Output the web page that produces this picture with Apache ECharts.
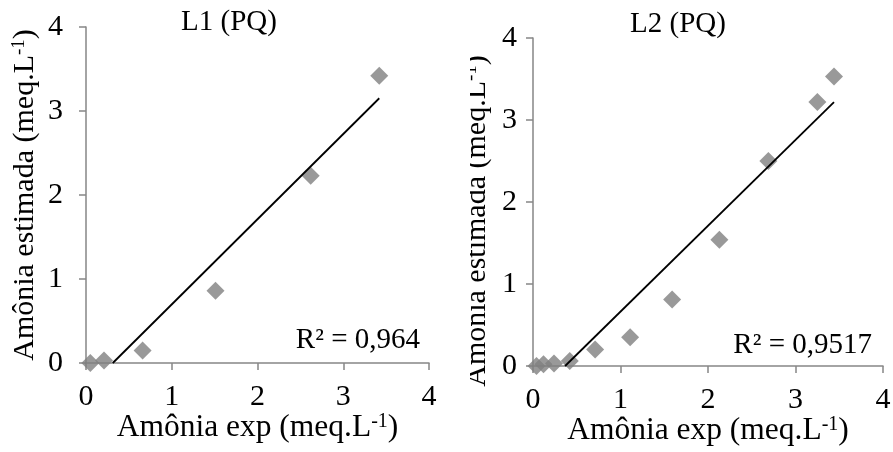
<!DOCTYPE html>
<html><head><meta charset="utf-8">
<script src="https://cdn.jsdelivr.net/npm/echarts@6/dist/echarts.min.js"></script>
<style>html,body{margin:0;padding:0;background:#fff}#c{width:893px;height:452px}</style>
</head><body><div id="c"></div>
<script>
// ---- data ----
const titles = ['L1 (PQ)', 'L2 (PQ)'];
const r2Labels = ['R\u00b2 = 0,964', 'R\u00b2 = 0,9517'];
const axisMin = 0, axisMax = 4, axisStep = 1;
const l1X = [0.05, 0.21, 0.66, 1.51, 2.62, 3.42];
const l1Y = [0.00, 0.03, 0.15, 0.86, 2.23, 3.42];
const l2X = [0.04, 0.12, 0.24, 0.42, 0.71, 1.11, 1.59, 2.13, 2.69, 3.25, 3.44];
const l2Y = [0.00, 0.02, 0.03, 0.06, 0.20, 0.35, 0.81, 1.54, 2.50, 3.22, 3.53];
const xNameText = 'Amônia exp (meq.L';
const yNameText = 'Amônia estimada (meq.L';
const supText = '-1';

// ---- helpers ----
const FONT = "'Liberation Serif','Times New Roman',serif";
const AX = '#868686';
function linReg(xs, ys) {
  const n = xs.length;
  const mx = xs.reduce((a, b) => a + b, 0) / n;
  const my = ys.reduce((a, b) => a + b, 0) / n;
  let sxy = 0, sxx = 0;
  for (let i = 0; i < n; i++) { sxy += (xs[i] - mx) * (ys[i] - my); sxx += (xs[i] - mx) ** 2; }
  const a = sxy / sxx, b = my - a * mx;
  return { a, b };
}
function trend(xs, ys) {
  const { a, b } = linReg(xs, ys);
  const xmin = Math.min(...xs), xmax = Math.max(...xs);
  const x0 = Math.max(xmin, -b / a);
  return [[x0, a * x0 + b], [xmax, a * xmax + b]];
}
function makeRich(size, supSize) {
  return {
    a: { fontFamily: FONT, fontSize: size, color: '#000' },
    s: { fontFamily: FONT, fontSize: supSize, color: '#000', verticalAlign: 'top' }
  };
}
function nameOf(t) { return '{a|' + t + '}{s|' + supText + '}{a|)}'; }

const grids = [
  { left: 86, top: 27, width: 343, height: 336 },
  { left: 533, top: 38, width: 350, height: 328 }
];
const yLabelMargin = [23, 16];
const yNamePad = [[0, 0, 0, 0], [0, 38, 0, 0]];
const yNameGap = [46, 41];

function xAxis(i) {
  return {
    gridIndex: i, type: 'value', min: axisMin, max: axisMax, interval: axisStep,
    axisLine: { show: true, onZero: false, lineStyle: { color: AX, width: 1.5 } },
    axisTick: { show: true, inside: false, length: 7, lineStyle: { color: AX, width: 1.5 } },
    axisLabel: { margin: 19, color: '#000', fontFamily: FONT, fontSize: 30 },
    splitLine: { show: false },
    name: nameOf(xNameText), nameLocation: 'middle', nameGap: 49, nameMoveOverlap: false,
    nameTextStyle: { fontFamily: FONT, fontSize: 31.5, color: '#000', rich: makeRich(31.5, 20) }
  };
}
function yAxis(i) {
  return {
    gridIndex: i, type: 'value', min: axisMin, max: axisMax, interval: axisStep,
    axisLine: { show: true, onZero: false, lineStyle: { color: AX, width: 1.5 } },
    axisTick: { show: true, inside: false, length: 7, lineStyle: { color: AX, width: 1.5 } },
    axisLabel: { margin: yLabelMargin[i], color: '#000', fontFamily: FONT, fontSize: 30 },
    splitLine: { show: false },
    name: nameOf(yNameText), nameLocation: 'middle', nameGap: yNameGap[i], nameMoveOverlap: false,
    nameTextStyle: { fontFamily: FONT, fontSize: 30, color: '#000', rich: makeRich(30, 19), padding: yNamePad[i] }
  };
}
function scatter(i, xs, ys) {
  return {
    type: 'scatter', xAxisIndex: i, yAxisIndex: i, symbol: 'diamond', symbolSize: 18,
    itemStyle: { color: '#7f7f7f' }, z: 2, silent: true,
    data: xs.map((x, k) => [x, ys[k]])
  };
}
function trendSeries(i, xs, ys) {
  return {
    type: 'line', xAxisIndex: i, yAxisIndex: i, symbol: 'none', silent: true, z: 3,
    lineStyle: { color: '#000', width: 1.8 }, data: trend(xs, ys)
  };
}

const chart = echarts.init(document.getElementById('c'), null, { renderer: 'canvas' });
chart.setOption({
  animation: false,
  backgroundColor: '#fff',
  title: [
    { text: titles[0], left: 229, top: 8, textAlign: 'center', padding: 0,
      textStyle: { fontFamily: FONT, fontSize: 29, fontWeight: 'normal', color: '#000' } },
    { text: titles[1], left: 678, top: 10, textAlign: 'center', padding: 0,
      textStyle: { fontFamily: FONT, fontSize: 29, fontWeight: 'normal', color: '#000' } }
  ],
  grid: grids.map(g => Object.assign({ containLabel: false, outerBoundsMode: 'none' }, g)),
  xAxis: [xAxis(0), xAxis(1)],
  yAxis: [yAxis(0), yAxis(1)],
  series: [
    scatter(0, l1X, l1Y), trendSeries(0, l1X, l1Y),
    scatter(1, l2X, l2Y), trendSeries(1, l2X, l2Y)
  ],
  graphic: [
    { type: 'rect', left: 440, top: 0, shape: { width: 30, height: 452 }, style: { fill: '#fff' }, z: 100, silent: true },
    { type: 'text', x: 420, y: 340, z: 101, silent: true,
      style: { text: r2Labels[0], align: 'right', verticalAlign: 'middle', font: '29px ' + FONT, fill: '#000' } },
    { type: 'text', x: 872, y: 345, z: 101, silent: true,
      style: { text: r2Labels[1], align: 'right', verticalAlign: 'middle', font: '29px ' + FONT, fill: '#000' } }
  ]
});
</script></body></html>
